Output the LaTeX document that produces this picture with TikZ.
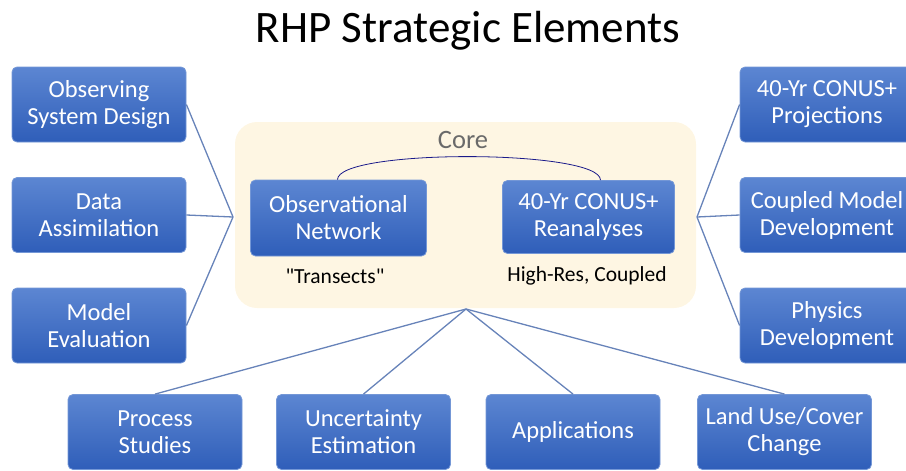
\documentclass[tikz,border=0pt]{standalone}
\usepackage{fontspec}
\setmainfont{Carlito}
\newfontfamily\notefont{Carlito}[Ligatures=TeXOff]
\begin{document}
\begin{tikzpicture}[x=1pt,y=-1pt,
  box/.style={draw=boxedge, line width=0.8pt, rounded corners=5pt,
    top color=boxtop, bottom color=boxbot, text=white,
    minimum width=174pt, minimum height=75pt, align=center,
    inner sep=2pt, font=\fontsize{24.5}{27}\selectfont},
  inbox/.style={box, minimum width=176pt, minimum height=76pt},
  link/.style={draw=linkc, line width=1.3pt},
  note/.style={font=\notefont\fontsize{21.5}{24}\selectfont, text=black}]
\definecolor{boxtop}{HTML}{5C86D2}
\definecolor{boxbot}{HTML}{2F5EB9}
\definecolor{boxedge}{HTML}{7497D6}
\definecolor{linkc}{HTML}{6783B9}
\definecolor{corefill}{HTML}{FEF6E3}
\definecolor{coretext}{HTML}{6A6A6A}
\definecolor{arcc}{HTML}{1A1A8A}

\useasboundingbox (0,0) rectangle (906,471);
\clip (0,0) rectangle (906,471);

% title
\node[font=\fontsize{45}{50}\selectfont] (title) at (468,31) {RHP Strategic Elements};

% core panel
\path[fill=corefill, rounded corners=22pt] (235,122) rectangle (696,308);
\node[text=coretext, font=\fontsize{26.5}{30}\selectfont] (core) at (463,140) {Core};
\node[inbox] (obs) at (338.5,218) {Observational\\Network};
\node[inbox, minimum width=172pt, minimum height=73pt] (rea) at (588.5,217) {40-Yr CONUS+\\Reanalyses};
\node[note] (tr) at (335,276) {"Transects"};
\node[note] (hr) at (587,276) {High-Res, Coupled};
\draw[arcc, line width=0.8pt] ([xshift=-1pt]obs.north) .. controls +(0,-31) and +(0,-31) .. ([xshift=12pt]rea.north);

% left column
\node[box] (osd) at (99,104.5) {Observing\\System Design};
\node[box] (da)  at (99,215) {Data\\Assimilation};
\node[box] (me)  at (99,325.5) {Model\\Evaluation};

% right column
\node[box] (proj) at (827,104.5) {40-Yr CONUS+\\Projections};
\node[box] (cmd)  at (827,215) {Coupled Model\\Development};
\node[box] (phys) at (827,325.5) {Physics\\Development};

% bottom row
\node[box] (ps)  at (155,432) {Process\\Studies};
\node[box] (ue)  at (363.5,432) {Uncertainty\\Estimation};
\node[box] (app) at (573,432) {Applications};
\node[box] (lu)  at (784.5,432) {Land Use/Cover\\Change};

% junctions
\coordinate (jl) at (233,217);
\coordinate (jr) at (697,217);
\coordinate (jb) at (466,309);

\draw[link] (osd.east) -- (jl);
\draw[link] (da.east) -- (jl);
\draw[link] (me.east) -- (jl);
\draw[link] (jr) -- (proj.west);
\draw[link] (jr) -- (cmd.west);
\draw[link] (jr) -- (phys.west);
\draw[link] (jb) -- (ps.north);
\draw[link] (jb) -- (ue.north);
\draw[link] (jb) -- (app.north);
\draw[link] (jb) -- (lu.north);
\end{tikzpicture}
\end{document}
